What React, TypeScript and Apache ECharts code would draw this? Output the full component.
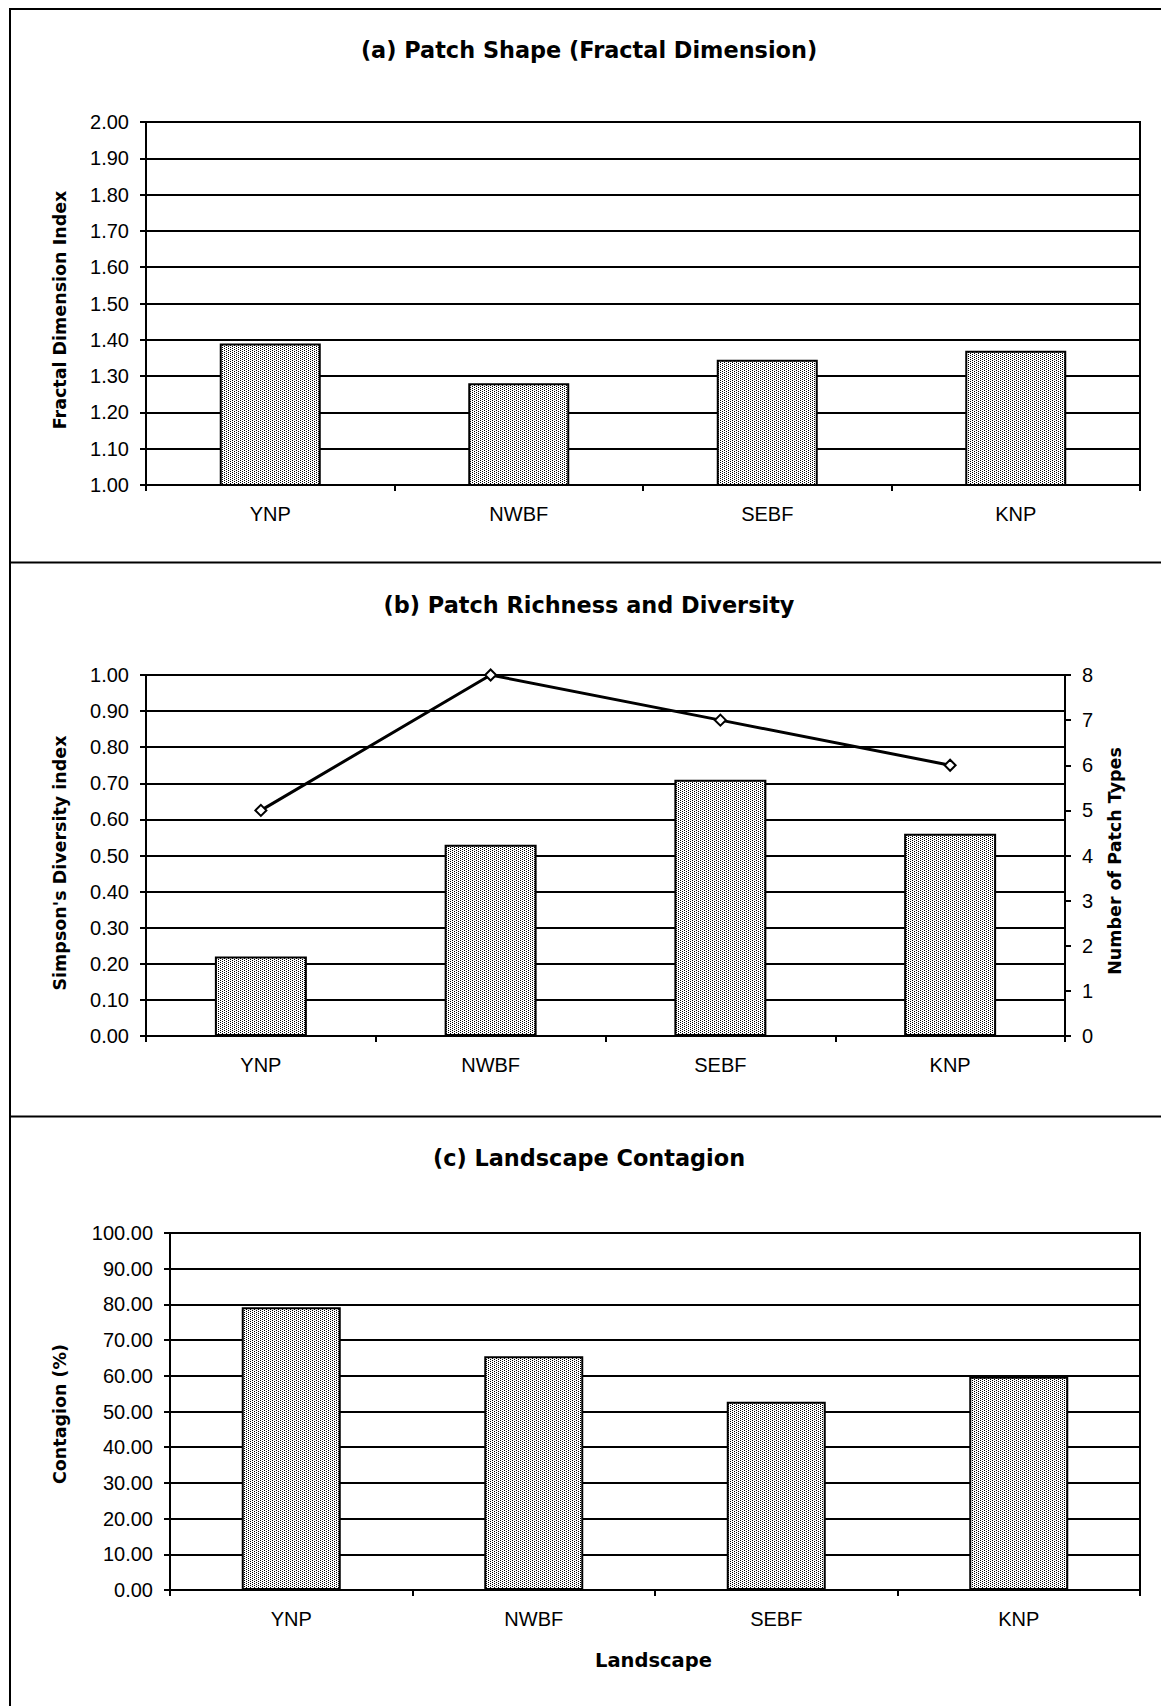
import React, { useEffect, useRef } from 'react';
import * as echarts from 'echarts';

// ---- data ----
const categories = ['YNP', 'NWBF', 'SEBF', 'KNP'];
const fractalDimension = [1.39, 1.28, 1.345, 1.37];
const simpsonDiversity = [0.22, 0.53, 0.71, 0.56];
const patchTypes = [5, 8, 7, 6];
const contagion = [79.2, 65.5, 52.7, 59.7];

const panelTitles = [
  '(a) Patch Shape (Fractal Dimension)',
  '(b) Patch Richness and Diversity',
  '(c) Landscape Contagion',
];
const axisTitles = {
  a: 'Fractal Dimension Index',
  bLeft: "Simpson's Diversity index",
  bRight: 'Number of Patch Types',
  c: 'Contagion (%)',
  cx: 'Landscape',
};

const LABEL_FONT = "'Liberation Sans', Arial, sans-serif";
const BOLD_FONT = "'DejaVu Sans', Verdana, sans-serif";

function makePattern() {
  const c = document.createElement('canvas');
  c.width = 4;
  c.height = 4;
  const ctx = c.getContext('2d')!;
  ctx.fillStyle = '#ffffff';
  ctx.fillRect(0, 0, 4, 4);
  ctx.fillStyle = '#000000';
  ctx.fillRect(0, 0, 1, 1);
  ctx.fillRect(2, 1, 1, 1);
  ctx.fillRect(0, 2, 1, 1);
  ctx.fillRect(2, 3, 1, 1);
  return { image: c, repeat: 'repeat', imageWidth: 4, imageHeight: 4 } as any;
}

export default function App() {
  const ref = useRef<HTMLDivElement>(null);

  useEffect(() => {
    if (!ref.current) return;
    const chart = echarts.init(ref.current, undefined, { renderer: 'svg' });
    const pattern = makePattern();

    const black = '#000000';
    const axisLine = { show: true, lineStyle: { color: black, width: 2 } };
    const axisTick = { show: true, inside: false, length: 6, lineStyle: { color: black, width: 2 } };
    const splitLine = { show: true, lineStyle: { color: black, width: 2 } };
    const xLabel = { color: black, fontFamily: LABEL_FONT, fontSize: 20, margin: 19 };
    const yLabel = (digits: number) => ({
      color: black,
      fontFamily: LABEL_FONT,
      fontSize: 20,
      margin: 17,
      formatter: (v: number) => v.toFixed(digits),
    });
    const gridBase = { show: true, borderColor: black, borderWidth: 2, backgroundColor: '#ffffff', containLabel: false };

    const barStyle = { color: pattern, borderColor: black, borderWidth: 2 };

    const frameStyle = { stroke: black, lineWidth: 2 };
    const titleText = (text: string, y: number) => ({
      type: 'text',
      x: 589,
      y,
      style: {
        text,
        fill: black,
        font: `bold 22.4px ${BOLD_FONT}`,
        textAlign: 'center',
        textVerticalAlign: 'middle',
      },
    });
    const vText = (text: string, x: number, y: number) => ({
      type: 'text',
      x,
      y,
      rotation: Math.PI / 2,
      style: {
        text,
        fill: black,
        font: `bold 17.5px ${BOLD_FONT}`,
        textAlign: 'center',
        textVerticalAlign: 'middle',
      },
    });

    chart.setOption({
      animation: false,
      backgroundColor: '#ffffff',
      grid: [
        { ...gridBase, left: 146, top: 122, width: 994, height: 363 },
        { ...gridBase, left: 146, top: 675, width: 919, height: 361 },
        { ...gridBase, left: 170, top: 1233, width: 970, height: 357 },
      ],
      xAxis: [0, 1, 2].map((g) => ({
        type: 'category',
        gridIndex: g,
        data: categories,
        axisLine,
        axisTick: { ...axisTick, alignWithLabel: false },
        axisLabel: xLabel,
        splitLine: { show: false },
      })),
      yAxis: [
        {
          type: 'value',
          gridIndex: 0,
          min: 1,
          max: 2,
          interval: 0.1,
          axisLine,
          axisTick,
          axisLabel: yLabel(2),
          splitLine,
        },
        {
          type: 'value',
          gridIndex: 1,
          min: 0,
          max: 1,
          interval: 0.1,
          axisLine,
          axisTick,
          axisLabel: yLabel(2),
          splitLine,
        },
        {
          type: 'value',
          gridIndex: 1,
          position: 'right',
          min: 0,
          max: 8,
          interval: 1,
          axisLine,
          axisTick,
          axisLabel: yLabel(0),
          splitLine: { show: false },
        },
        {
          type: 'value',
          gridIndex: 2,
          min: 0,
          max: 100,
          interval: 10,
          axisLine,
          axisTick,
          axisLabel: yLabel(2),
          splitLine,
        },
      ],
      series: [
        {
          type: 'bar',
          xAxisIndex: 0,
          yAxisIndex: 0,
          data: fractalDimension,
          barWidth: 101,
          itemStyle: barStyle,
        },
        {
          type: 'bar',
          xAxisIndex: 1,
          yAxisIndex: 1,
          data: simpsonDiversity,
          barWidth: 92,
          itemStyle: barStyle,
        },
        {
          type: 'line',
          xAxisIndex: 1,
          yAxisIndex: 2,
          data: patchTypes,
          symbol: 'diamond',
          symbolSize: 11,
          lineStyle: { color: black, width: 3 },
          itemStyle: { color: '#ffffff', borderColor: black, borderWidth: 2 },
          z: 5,
        },
        {
          type: 'bar',
          xAxisIndex: 2,
          yAxisIndex: 3,
          data: contagion,
          barWidth: 99,
          itemStyle: barStyle,
        },
      ],
      graphic: [
        { type: 'line', shape: { x1: 9, y1: 9, x2: 1161, y2: 9 }, style: frameStyle },
        { type: 'line', shape: { x1: 10, y1: 8, x2: 10, y2: 1706 }, style: frameStyle },
        { type: 'line', shape: { x1: 9, y1: 562.5, x2: 1161, y2: 562.5 }, style: frameStyle },
        { type: 'line', shape: { x1: 9, y1: 1116.5, x2: 1161, y2: 1116.5 }, style: frameStyle },
        titleText(panelTitles[0], 50),
        titleText(panelTitles[1], 604.5),
        titleText(panelTitles[2], 1158),
        vText(axisTitles.a, 60, 310),
        vText(axisTitles.bLeft, 60, 863),
        vText(axisTitles.bRight, 1115, 861),
        vText(axisTitles.c, 60, 1414),
        {
          type: 'text',
          x: 653.5,
          y: 1660,
          style: {
            text: axisTitles.cx,
            fill: black,
            font: `bold 19.5px ${BOLD_FONT}`,
            textAlign: 'center',
            textVerticalAlign: 'middle',
          },
        },
      ],
    });

    return () => {
      chart.dispose();
    };
  }, []);

  return (
    <div
      ref={ref}
      style={{ position: 'absolute', left: 0, top: 0, width: 1161, height: 1706, background: '#ffffff' }}
    />
  );
}
